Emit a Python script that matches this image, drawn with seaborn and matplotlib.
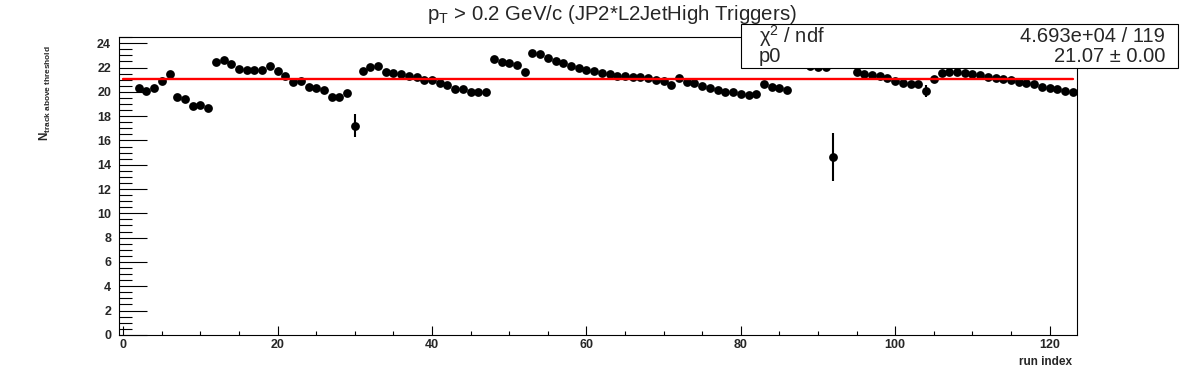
import matplotlib
matplotlib.use('Agg')
import matplotlib.pyplot as plt
import matplotlib.ticker as mticker
from matplotlib.patches import Rectangle
import numpy as np
import seaborn as sns

# --- dados ---
# indices 93 e 94 sem ponto
run_index = list(range(2, 93)) + list(range(95, 124))

n_tracks = [
    20.30, 20.08, 20.30, 20.91, 21.46, 19.56, 19.40, 18.85, 18.90, 18.71,  # 2-11
    22.45, 22.64, 22.28, 21.87, 21.81, 21.81, 21.81, 22.14, 21.75, 21.34,  # 12-21
    20.85, 20.91, 20.39, 20.30, 20.16, 19.61, 19.61, 19.94, 17.20, 21.75,  # 22-31
    22.03, 22.14, 21.67, 21.59, 21.46, 21.32, 21.21, 21.01, 20.99, 20.72,  # 32-41
    20.58, 20.22, 20.22, 19.98, 19.98, 19.98, 22.69, 22.45, 22.36, 22.22,  # 42-51
    21.67, 23.24, 23.11, 22.78, 22.58, 22.36, 22.14, 21.95, 21.81, 21.73,  # 52-61
    21.59, 21.46, 21.34, 21.34, 21.26, 21.26, 21.13, 20.99, 20.93, 20.58,  # 62-71
    21.18, 20.85, 20.72, 20.49, 20.30, 20.16, 20.02, 19.98, 19.84, 19.71,  # 72-81
    19.79, 20.63, 20.44, 20.30, 20.16, 22.50, 22.35, 22.15, 22.08, 22.02,  # 82-91
    14.62,                                                                 # 92
    21.67, 21.48, 21.40, 21.32, 21.13, 20.93, 20.77, 20.66, 20.66, 20.08,  # 95-104
    21.05, 21.54, 21.67, 21.67, 21.59, 21.48, 21.40, 21.26, 21.13, 21.05,  # 105-114
    20.99, 20.85, 20.77, 20.66, 20.44, 20.30, 20.22, 20.11, 20.02,         # 115-123
]

n_err = [
    0.05, 0.05, 0.05, 0.05, 0.05, 0.05, 0.05, 0.05, 0.05, 0.05,
    0.05, 0.05, 0.05, 0.05, 0.05, 0.05, 0.05, 0.05, 0.05, 0.05,
    0.05, 0.05, 0.05, 0.05, 0.05, 0.05, 0.05, 0.05, 0.95, 0.05,
    0.05, 0.05, 0.05, 0.05, 0.05, 0.05, 0.05, 0.05, 0.05, 0.05,
    0.05, 0.05, 0.05, 0.05, 0.05, 0.05, 0.05, 0.05, 0.05, 0.05,
    0.05, 0.05, 0.05, 0.05, 0.05, 0.05, 0.05, 0.05, 0.05, 0.05,
    0.05, 0.05, 0.05, 0.05, 0.05, 0.05, 0.05, 0.05, 0.05, 0.15,
    0.05, 0.05, 0.05, 0.05, 0.05, 0.05, 0.05, 0.05, 0.05, 0.05,
    0.05, 0.05, 0.05, 0.05, 0.05, 0.05, 0.05, 0.05, 0.05, 0.05,
    1.96,
    0.05, 0.05, 0.05, 0.05, 0.05, 0.05, 0.05, 0.05, 0.05, 0.50,
    0.05, 0.05, 0.05, 0.05, 0.05, 0.05, 0.05, 0.05, 0.05, 0.05,
    0.05, 0.05, 0.05, 0.05, 0.05, 0.05, 0.05, 0.05, 0.05,
]

# ajuste pol0
fit_p0 = 21.07
fit_p0_err = 0.00
fit_chi2 = '4.693e+04'
fit_ndf = 119
fit_range = [0, 123]

# --- estilo ---
sns.set_theme(style='white')
plt.rcParams['font.family'] = ['Liberation Sans', 'DejaVu Sans']
plt.rcParams['mathtext.fontset'] = 'custom'
plt.rcParams['mathtext.rm'] = 'Liberation Sans'
plt.rcParams['mathtext.it'] = 'Liberation Sans:italic'
plt.rcParams['mathtext.bf'] = 'Liberation Sans:bold'

fig = plt.figure(figsize=(11.96, 3.72), dpi=100)
ax = fig.add_axes([0.0998, 0.1, 0.8004, 0.8])

ax.errorbar(run_index, n_tracks, yerr=n_err, fmt='none', ecolor='black',
            elinewidth=1.5, capsize=0, zorder=2)
sns.scatterplot(x=run_index, y=n_tracks, color='black', s=40, linewidth=0,
                ax=ax, zorder=3)
sns.lineplot(x=fit_range, y=[fit_p0, fit_p0], color='red', linewidth=1.7,
             ax=ax, zorder=5)

ax.set_xlim(-0.5, 123.5)
ax.set_ylim(0, 24.5)

ax.xaxis.set_major_locator(mticker.MultipleLocator(20))
ax.xaxis.set_minor_locator(mticker.MultipleLocator(5))
ax.yaxis.set_major_locator(mticker.MultipleLocator(2))
ax.yaxis.set_minor_locator(mticker.MultipleLocator(0.5))

ax.tick_params(axis='both', which='both', direction='in', color='black', width=0.8,
               bottom=True, left=True, top=False, right=False)
ax.tick_params(axis='x', which='major', length=6.7, pad=3, labelsize=9)
ax.tick_params(axis='x', which='minor', length=3.2)
ax.tick_params(axis='y', which='major', length=20.5, pad=6, labelsize=9)
ax.tick_params(axis='y', which='minor', length=9.5)
for lbl in ax.get_xticklabels() + ax.get_yticklabels():
    lbl.set_fontweight('bold')

for sp in ax.spines.values():
    sp.set_visible(True)
    sp.set_color('black')
    sp.set_linewidth(0.8)

ax.set_xlabel('')
ax.set_ylabel('')
fig.text(1072 / 1196, 1 - 362 / 372, 'run index', ha='right', va='center',
         fontsize=8.5, fontweight='bold')
fig.text(45 / 1196, 1 - 93 / 372,
         r'$\mathbf{N}_{\mathbf{track\ above\ threshold}}$',
         rotation=90, ha='center', va='center', fontsize=8.5)

fig.text(612 / 1196, 1 - 15 / 372,
         r'p$_{\mathrm{T}}$ > 0.2 GeV/c (JP2*L2JetHigh Triggers)',
         ha='center', va='center', fontsize=14.7)

# caixa de estatísticas
box = Rectangle((741 / 1196, 1 - 68 / 372), (1178 - 741) / 1196, 44 / 372,
                transform=fig.transFigure, facecolor='white', edgecolor='black',
                linewidth=0.8, zorder=10)
fig.add_artist(box)
fig.text(759 / 1196, 1 - 36 / 372, r'χ$^{2}$ / ndf', ha='left', va='center',
         fontsize=14.5, zorder=11)
fig.text(1165 / 1196, 1 - 36 / 372, f'{fit_chi2} / {fit_ndf}', ha='right',
         va='center', fontsize=14.5, zorder=11)
fig.text(759 / 1196, 1 - 57 / 372, 'p0', ha='left', va='center',
         fontsize=14.5, zorder=11)
fig.text(1165 / 1196, 1 - 57 / 372, f'{fit_p0:.2f} ± {fit_p0_err:.2f}',
         ha='right', va='center', fontsize=14.5, zorder=11)

fig.savefig('out.png', dpi=100)
plt.close()
